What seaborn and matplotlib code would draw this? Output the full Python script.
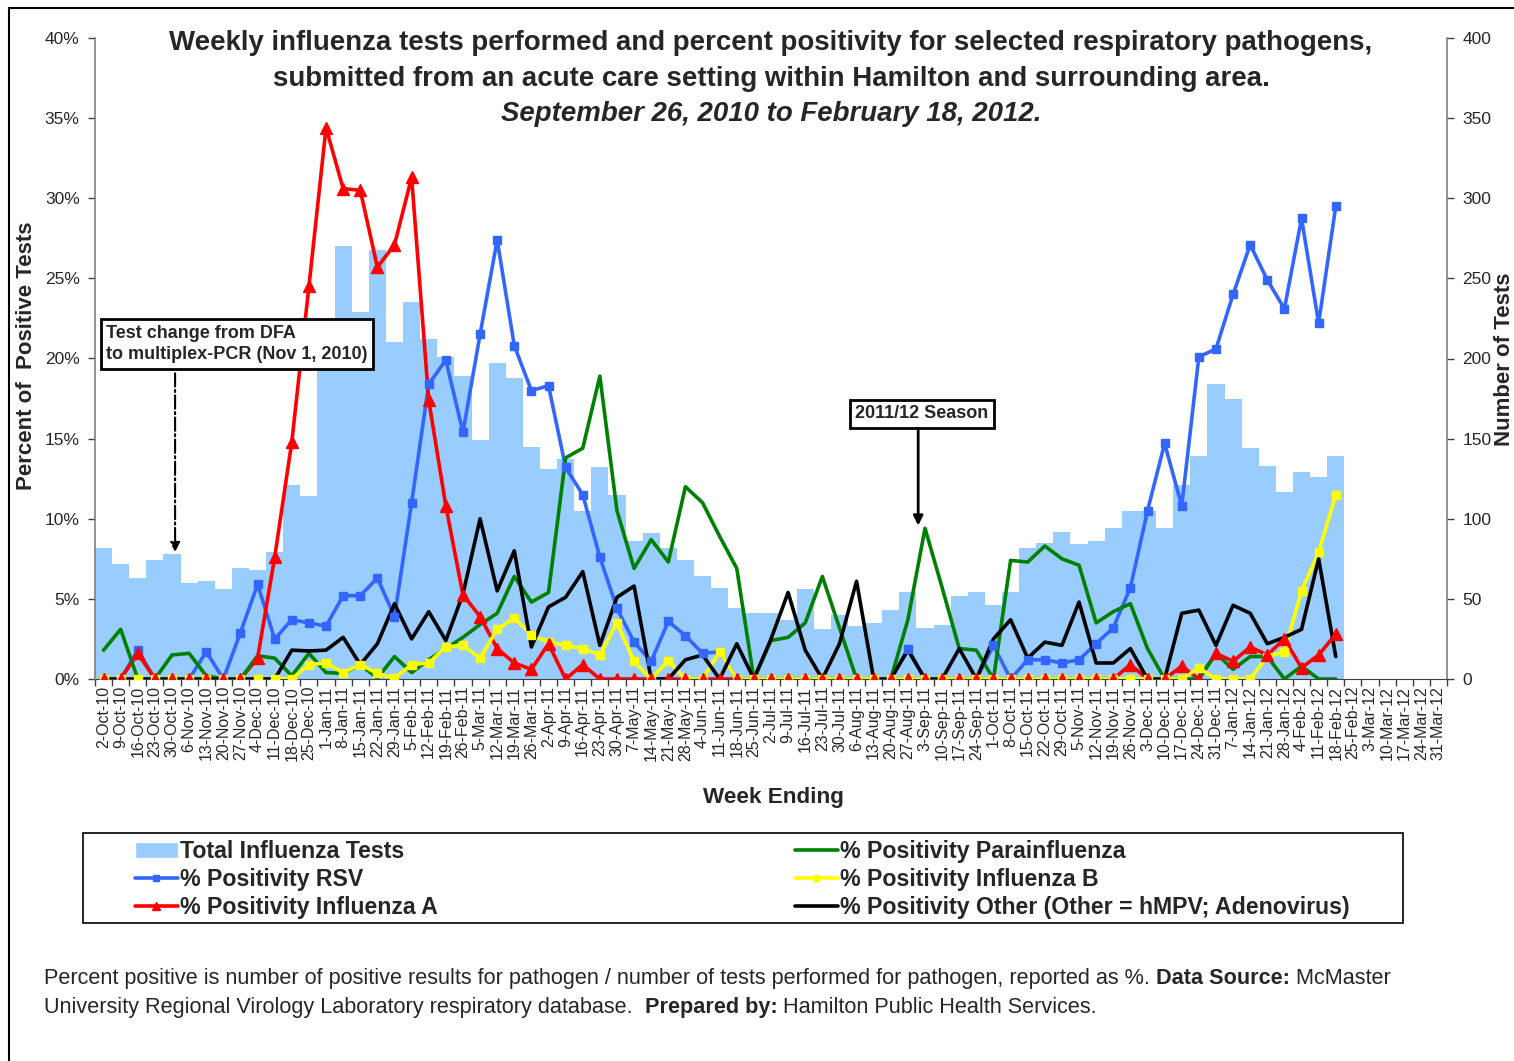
import numpy as np
import pandas as pd
import seaborn as sns
import matplotlib.pyplot as plt
from matplotlib.patches import Rectangle, Patch
from matplotlib.lines import Line2D

# week ending labels, 2-Oct-10 .. 31-Mar-12
weeks = [f"{d.day}-{d:%b-%y}" for d in pd.date_range("2010-10-02", periods=79, freq="7D")]

total_tests = [82, 72, 63, 74, 78, 60, 61, 56, 69, 68, 79, 121, 114, 215, 270, 229, 268, 210,
               235, 212, 201, 189, 149, 197, 188, 145, 131, 137, 105, 132, 115, 86, 91, 82, 74,
               64, 57, 44, 41, 41, 37, 56, 31, 40, 33, 35, 43, 54, 32, 34, 52, 54, 46, 54, 82,
               85, 92, 84, 86, 94, 105, 105, 94, 121, 139, 184, 175, 144, 133, 117, 129, 126, 139]

rsv = [0, 0, 1.8, 0, 0, 0, 1.7, 0, 2.9, 5.9, 2.5, 3.7, 3.5, 3.3, 5.2, 5.2, 6.3, 3.9, 11.0,
       18.4, 19.9, 15.4, 21.5, 27.4, 20.8, 18.0, 18.3, 13.2, 11.5, 7.6, 4.4, 2.3, 1.1, 3.6,
       2.7, 1.6, 1.7, 0, 0, 0, 0, 0, 0, 0, 0, 0, 0, 1.9, 0, 0, 0, 0, 2.1, 0, 1.2, 1.2, 1.0,
       1.2, 2.2, 3.2, 5.7, 10.5, 14.7, 10.8, 20.1, 20.6, 24.0, 27.1, 24.9, 23.1, 28.75, 22.2, 29.5]

flu_a = [0, 0, 1.6, 0, 0, 0, 0, 0, 0, 1.3, 7.6, 14.8, 24.5, 34.4, 30.6, 30.5, 25.7, 27.1,
         31.3, 17.4, 10.8, 5.25, 3.9, 1.9, 1.0, 0.6, 2.2, 0, 0.9, 0, 0, 0, 0, 0, 0, 0, 0, 0,
         0, 0, 0, 0, 0, 0, 0, 0, 0, 0, 0, 0, 0, 0, 0, 0, 0, 0, 0, 0, 0, 0, 0.9, 0, 0, 0.8,
         0, 1.6, 1.1, 2.0, 1.5, 2.5, 0.7, 1.5, 2.8]

para = [1.8, 3.1, 0, 0, 1.5, 1.6, 0.2, 0, 0, 1.45, 1.3, 0.2, 1.6, 0.4, 0.35, 0.9, 0.05, 1.4,
        0.4, 1.2, 1.9, 2.6, 3.4, 4.1, 6.4, 4.8, 5.4, 13.8, 14.4, 18.9, 10.5, 6.9, 8.7, 7.3,
        12.0, 11.0, 8.9, 6.9, 0, 2.4, 2.6, 3.5, 6.4, 3.2, 0, 0, 0, 3.7, 9.4, 5.7, 1.9, 1.8,
        0, 7.4, 7.3, 8.3, 7.5, 7.1, 3.5, 4.2, 4.7, 1.9, 0, 0, 0, 1.6, 0.6, 1.4, 1.4, 0, 0.8, 0, 0]

flu_b = [0, 0, 0, 0, 0, 0, 0, 0, 0, 0, 0, 0, 0.9, 1.0, 0.4, 0.9, 0.35, 0.05, 0.9, 1.0, 2.0,
         2.1, 1.3, 3.1, 3.8, 2.75, 2.3, 2.1, 1.9, 1.5, 3.5, 1.1, 0, 1.15, 0, 0, 1.7, 0, 0, 0,
         0, 0, 0, 0, 0, 0, 0, 0, 0, 0, 0, 0, 0, 0, 0, 0, 0, 0, 0, 0, 0, 0, 0, 0, 0.7, 0, 0, 0,
         1.4, 1.7, 5.5, 7.9, 11.5]

other = [0, 0, 0, 0, 0, 0, 0, 0, 0, 0, 0, 1.8, 1.75, 1.8, 2.6, 0.9, 2.2, 4.7, 2.5, 4.2, 2.4,
         5.3, 10.0, 5.5, 8.0, 2.0, 4.5, 5.1, 6.7, 2.1, 5.1, 5.8, 0, 0, 1.2, 1.5, 0, 2.2, 0,
         2.5, 5.4, 1.8, 0, 2.2, 6.1, 0, 0, 1.8, 0, 0, 1.9, 0, 2.5, 3.7, 1.3, 2.3, 2.1, 4.8,
         1.0, 1.0, 1.9, 0, 0, 4.1, 4.3, 2.1, 4.6, 4.1, 2.2, 2.6, 3.1, 7.5, 1.4]

W, H = 1514, 1061
sns.set_style("white")
plt.rcParams['font.family'] = ['Liberation Sans', 'DejaVu Sans']

fig = plt.figure(figsize=(W / 100, H / 100), dpi=100)
ax = fig.add_axes([95 / W, 1 - 679 / H, (1447 - 95) / W, (679 - 38) / H])

# bars: total tests (right axis)
df_bars = pd.DataFrame({'week': weeks[:len(total_tests)], 'tests': total_tests})
sns.barplot(data=df_bars, x='week', y='tests', order=weeks, color='#99CCFF',
            saturation=1, width=1.0, linewidth=0, ax=ax)
ax.set_xlabel("")
ax.set_ylabel("")

# lines: % positivity (left axis)
ax2 = ax.twinx()
idx = np.arange(len(rsv))
lw = 2.6
sns.lineplot(x=idx, y=rsv, color='#3366FF', lw=lw, ax=ax2, zorder=3)
sns.lineplot(x=idx, y=flu_a, color='#FF0000', lw=lw, ax=ax2, zorder=3)
sns.lineplot(x=idx, y=para, color='#008000', lw=lw, ax=ax2, zorder=3)
sns.lineplot(x=idx, y=flu_b, color='#FFFF00', lw=lw, ax=ax2, zorder=3)
sns.lineplot(x=idx, y=other, color='#000000', lw=lw, ax=ax2, zorder=3)
ax2.plot(idx, rsv, ls='none', marker='s', ms=6, color='#3366FF', zorder=4)
ax2.plot(idx, flu_b, ls='none', marker='s', ms=6, color='#FFFF00', zorder=4)
ax2.plot(idx, flu_a, ls='none', marker='^', ms=8.5, color='#FF0000', zorder=4)
ax2.set_xlim(-0.5, len(weeks) - 0.5)
ax2.set_xlabel("")
ax2.set_ylabel("")

# swap sides: tests on the right, percent on the left
ax.yaxis.tick_right()
ax2.yaxis.tick_left()
ax.set_ylim(0, 400)
ax.set_yticks(range(0, 401, 50))
ax2.set_ylim(0, 40)
ax2.set_yticks(range(0, 41, 5))
ax2.set_yticklabels([f"{v}%" for v in range(0, 41, 5)])

ax.set_xticks(range(len(weeks)))
ax.set_xticklabels(weeks, rotation=90, fontsize=11.5)
ax.set_xticks(np.arange(-0.5, len(weeks), 1), minor=True)
ax.tick_params(axis='x', which='major', length=0, pad=5)
ax.tick_params(axis='x', which='minor', bottom=True, length=5, width=1, color='#404040')
ax.tick_params(axis='y', left=False, right=True, labelleft=False, labelright=True,
               length=5, width=1, color='#404040', labelsize=12.5, pad=6)
ax2.tick_params(axis='y', left=True, right=False, labelleft=True, labelright=False,
                length=5, width=1, color='#404040', labelsize=12.5, pad=6)

for s in ['top', 'left']:
    ax.spines[s].set_visible(False)
for s in ['top', 'right', 'bottom']:
    ax2.spines[s].set_visible(False)
for a, s in [(ax, 'right'), (ax2, 'left')]:
    a.spines[s].set_color('#808080')
    a.spines[s].set_linewidth(1.2)
ax.spines['bottom'].set_color('#404040')

# annotations
ax2.text(0.14, 20.9, "Test change from DFA\nto multiplex-PCR (Nov 1, 2010)", ha='left', va='center',
         fontsize=13, weight='bold', linespacing=1.35, zorder=6,
         bbox=dict(boxstyle='square,pad=0.3', fc='white', ec='black', lw=2))
ax2.annotate("", xy=(4.18, 7.75), xytext=(4.18, 19.25), zorder=6,
             arrowprops=dict(arrowstyle='-|>', color='black', lw=1.5, ls='-.', mutation_scale=14))
ax2.text(47.8, 16.56, "2011/12 Season", ha='center', va='center', fontsize=13, weight='bold',
         zorder=6, bbox=dict(boxstyle='square,pad=0.3', fc='white', ec='black', lw=2))
ax2.annotate("", xy=(47.6, 9.4), xytext=(47.6, 15.8), zorder=6,
             arrowprops=dict(arrowstyle='-|>', color='black', lw=2, mutation_scale=14))

# titles and axis labels
title_x = 771 / W
fig.text(title_x, 1 - 43 / H, "Weekly influenza tests performed and percent positivity for selected respiratory pathogens,",
         ha='center', va='center', fontsize=19.9, weight='bold')
fig.text(title_x, 1 - 79 / H, "submitted from an acute care setting within Hamilton and surrounding area.",
         ha='center', va='center', fontsize=19.9, weight='bold')
fig.text(title_x, 1 - 114 / H, "September 26, 2010 to February 18, 2012.",
         ha='center', va='center', fontsize=19.9, weight='bold', style='italic')
fig.text(27 / W, 1 - 356 / H, "Percent of  Positive Tests", rotation=90, ha='center', va='center',
         fontsize=16, weight='bold')
fig.text(1505 / W, 1 - 359 / H, "Number of Tests", rotation=90, ha='center', va='center',
         fontsize=16, weight='bold')
fig.text(773 / W, 1 - 797 / H, "Week Ending", ha='center', va='center', fontsize=16.2, weight='bold')

# legend
fig.patches.append(Rectangle((83 / W, 1 - 923 / H), 1320 / W, 90 / H, transform=fig.transFigure,
                             fill=False, ec='black', lw=1.2))
h_left = [Patch(facecolor='#99CCFF'),
          Line2D([], [], color='#3366FF', lw=lw, marker='s', ms=5),
          Line2D([], [], color='#FF0000', lw=lw, marker='^', ms=6)]
l_left = ["Total Influenza Tests", "% Positivity RSV", "% Positivity Influenza A"]
h_right = [Line2D([], [], color='#008000', lw=lw),
           Line2D([], [], color='#FFFF00', lw=lw, marker='s', ms=5),
           Line2D([], [], color='#000000', lw=lw)]
l_right = ["% Positivity Parainfluenza", "% Positivity Influenza B",
           "% Positivity Other (Other = hMPV; Adenovirus)"]
leg_kw = dict(loc='upper left', frameon=False, prop={'weight': 'bold', 'size': 16.7},
              handlelength=1.85, handletextpad=0.1, labelspacing=0.22, borderpad=0, borderaxespad=0)
fig.legend(h_left, l_left, bbox_to_anchor=(135 / W, 1 - 840 / H), **leg_kw)
fig.legend(h_right, l_right, bbox_to_anchor=(795 / W, 1 - 840 / H), **leg_kw)

# footer note with bold parts
def chain(parts, x, y, size=15.6):
    prev = None
    for txt, bold in parts:
        w = 'bold' if bold else 'normal'
        if prev is None:
            prev = fig.text(x, y, txt, ha='left', va='bottom', fontsize=size, weight=w)
        else:
            prev = plt.annotate(txt, xy=(1, 0), xycoords=prev, ha='left', va='bottom',
                                fontsize=size, weight=w, annotation_clip=False)

chain([("Percent positive is number of positive results for pathogen / number of tests performed for pathogen, reported as %. ", False),
       ("Data Source:", True), (" McMaster", False)], 44 / W, 1 - 989 / H)
chain([("University Regional Virology Laboratory respiratory database.  ", False),
       ("Prepared by:", True), (" Hamilton Public Health Services.", False)], 44 / W, 1 - 1018 / H)

# outer frame
fig.patches.append(Rectangle((9 / W, -0.05), 1.2, 1 - 8 / H + 0.05, transform=fig.transFigure,
                             fill=False, ec='black', lw=1.5, clip_on=False))

fig.savefig("out.png", dpi=100)
